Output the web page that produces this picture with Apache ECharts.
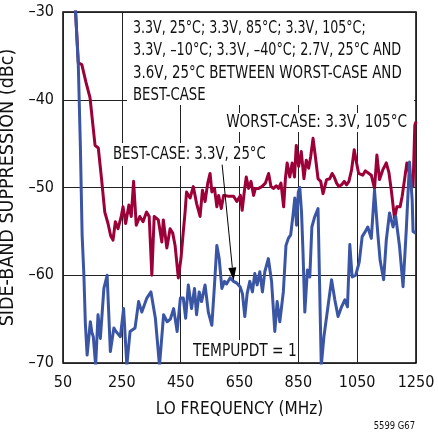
<!DOCTYPE html>
<html>
<head>
<meta charset="utf-8">
<script src="https://cdn.jsdelivr.net/npm/echarts@6/dist/echarts.min.js"></script>
<style>
html,body{margin:0;padding:0;background:#fff;}
#c{width:438px;height:432px;}
</style>
</head>
<body>
<div id="c"></div>
<script>
// ---- data ----
var xTicks = [50, 250, 450, 650, 850, 1050, 1250];
var yTicks = [-70, -60, -50, -40, -30];

var worstFreq = [92,102,114,128,142,152,159,170,181,192,203,212,220,228,237,248,254,263,274,282,290,299,311,322,334,343,352,360,374,386,391,403,414,423,431,442,451,459,465,470,482,493,504,516,524,533,542,550,556,565,573,579,588,596,613,630,641,653,659,667,673,681,689,698,704,715,726,738,749,757,766,775,783,791,800,806,812,821,829,837,843,851,860,869,877,885,892,900,908,917,926,934,946,957,965,972,980,988,997,1006,1014,1022,1031,1040,1048,1055,1069,1078,1090,1098,1109,1117,1126,1137,1149,1158,1166,1177,1185,1196,1203,1211,1219,1228,1234,1240,1246,1250];
var worstVal = [-29.5,-35.8,-36.0,-38.0,-39.8,-43.0,-45.2,-45.5,-49.0,-52.8,-54.1,-55.5,-56.0,-53.9,-54.7,-53.3,-52.2,-54.1,-52.0,-53.3,-49.3,-54.3,-53.3,-53.9,-52.8,-53.3,-60.0,-53.3,-53.7,-56.2,-53.7,-56.9,-54.7,-55.2,-56.6,-60.3,-58.1,-55.0,-52.8,-50.5,-51.2,-49.9,-51.8,-53.3,-50.3,-51.6,-49.5,-48.4,-50.5,-50.1,-52.2,-50.9,-52.4,-50.9,-51.0,-51.0,-51.6,-50.9,-52.6,-50.3,-48.8,-50.1,-49.3,-50.9,-50.1,-50.1,-49.9,-49.5,-48.4,-49.9,-50.1,-49.8,-50.1,-49.5,-52.2,-49.0,-47.2,-48.8,-47.2,-48.8,-45.2,-47.6,-45.9,-49.0,-46.9,-47.8,-46.5,-44.4,-46.5,-49.0,-49.3,-50.7,-49.1,-49.0,-48.4,-48.8,-49.5,-49.9,-49.7,-49.3,-49.7,-49.3,-48.0,-45.7,-47.2,-48.4,-48.6,-48.1,-48.4,-48.6,-50.1,-46.3,-49.1,-48.0,-47.2,-48.3,-50.3,-53.5,-52.2,-52.2,-51.0,-49.1,-47.2,-48.4,-49.5,-49.9,-42.9,-42.5];

var bestFreq = [92,102,109,115,121,126,132,143,148,153,161,169,177,189,200,211,223,230,245,256,267,278,295,307,318,335,349,364,378,392,404,415,426,438,449,459,467,476,487,497,504,513,521,533,544,556,565,573,581,590,599,606,618,630,641,652,660,668,676,685,694,702,710,719,728,736,748,759,770,778,787,799,808,816,824,833,838,844,850,855,861,866,872,881,889,896,906,917,928,937,949,963,974,985,997,1008,1017,1025,1033,1045,1057,1067,1078,1086,1098,1109,1120,1128,1140,1149,1160,1172,1181,1194,1206,1217,1228,1237,1240,1249];
var bestVal = [-29.5,-36.0,-45.2,-55.4,-60.0,-65.5,-69.1,-65.3,-66.5,-67.0,-70.3,-64.5,-67.2,-61.5,-60.0,-68.7,-66.0,-66.4,-67.0,-63.8,-70.3,-66.4,-66.0,-63.0,-64.2,-62.6,-61.9,-64.9,-70.3,-64.5,-65.3,-65.0,-63.8,-66.4,-62.6,-62.6,-64.9,-61.1,-63.8,-61.5,-64.5,-61.9,-63.0,-61.1,-64.2,-65.7,-61.1,-56.6,-58.1,-61.5,-60.7,-61.0,-60.3,-60.7,-60.9,-61.3,-62.1,-64.7,-62.1,-60.7,-61.9,-59.8,-61.1,-59.6,-61.9,-59.6,-58.1,-60.7,-66.4,-63.0,-65.3,-61.9,-56.6,-55.8,-55.4,-52.8,-51.2,-54.3,-50.5,-50.0,-52.9,-57.5,-64.2,-59.4,-60.2,-54.5,-53.3,-52.4,-70.3,-67.0,-64.0,-60.5,-62.8,-64.7,-63.6,-62.8,-63.6,-56.5,-60.2,-60.0,-58.5,-55.6,-55.0,-54.5,-55.8,-50.3,-55.2,-58.3,-60.5,-56.0,-52.9,-54.5,-53.3,-56.7,-61.3,-54.8,-47.1,-51.4,-55.0,-55.2];

// annotation arrow (data coordinates: from freq, from dBc, to freq, to dBc)
var arrowFrom = [591, -47.4];
var arrowTo = [630, -60.6];

// ---- chart ----
function pairs(xs, ys) { return xs.map(function (x, i) { return [x, ys[i]]; }); }

var FAM = "'DejaVu Sans Condensed', 'Liberation Sans Narrow', sans-serif";
var chart = echarts.init(document.getElementById('c'), null, { renderer: 'canvas' });

function txt(x, y, s, sx, align, size) {
  return { type: 'text', z: 10, x: x, y: y, scaleX: sx || 1, style: {
    text: s, fontSize: size || 18, fontFamily: FAM, fill: '#111',
    align: align || 'left', verticalAlign: 'middle', textAlign: align || 'left', textVerticalAlign: 'middle' } };
}

function renderArrow(params, api) {
  var p0 = api.coord([api.value(0), api.value(1)]);
  var p1 = api.coord([api.value(2), api.value(3)]);
  var dx = p1[0] - p0[0], dy = p1[1] - p0[1];
  var len = Math.sqrt(dx * dx + dy * dy);
  var ux = dx / len, uy = dy / len, nx = -uy, ny = ux;
  var hl = 13, hw = 4;
  var bx = p1[0] - ux * hl, by = p1[1] - uy * hl;
  return {
    type: 'group',
    children: [
      { type: 'line', shape: { x1: p0[0], y1: p0[1], x2: bx, y2: by }, style: { stroke: '#000', lineWidth: 1 } },
      { type: 'polygon', shape: { points: [[p1[0], p1[1]], [bx + nx * hw, by + ny * hw], [bx - nx * hw, by - ny * hw]] }, style: { fill: '#000' } }
    ]
  };
}

var option = {
  animation: false,
  backgroundColor: '#fff',
  textStyle: { fontFamily: FAM, color: '#111' },
  grid: { left: 63, right: 22, top: 12, bottom: 69, outerBoundsMode: 'none', containLabel: false,
          show: true, borderColor: '#000', borderWidth: 1.5, backgroundColor: 'transparent' },
  xAxis: {
    type: 'value', min: xTicks[0], max: xTicks[xTicks.length - 1], interval: 200,
    name: 'LO FREQUENCY (MHz)', nameLocation: 'middle', nameGap: 38,
    nameTextStyle: { fontFamily: FAM, fontSize: 17, color: '#111' },
    axisLine: { show: false }, axisTick: { show: false },
    axisLabel: { fontFamily: FAM, fontSize: 16, color: '#111', margin: 12,
      formatter: function (v) { return String(v); } },
    splitLine: { show: true, lineStyle: { color: '#222', width: 1 } }
  },
  yAxis: {
    type: 'value', min: yTicks[0], max: yTicks[yTicks.length - 1], interval: 10,
    name: 'SIDE-BAND SUPPRESSION (dBc)', nameLocation: 'middle', nameGap: 36,
    nameTextStyle: { fontFamily: FAM, fontSize: 19.5, color: '#111' },
    axisLine: { show: false }, axisTick: { show: false },
    axisLabel: { fontFamily: FAM, fontSize: 16, color: '#111', margin: 9,
      formatter: function (v) { return String(v).replace('-', '\u2013'); } },
    splitLine: { show: true, lineStyle: { color: '#222', width: 1 } }
  },
  series: [
    {
      type: 'line', name: 'worst', data: pairs(worstFreq, worstVal),
      showSymbol: false, symbol: 'none', clip: true, z: 3,
      lineStyle: { color: '#9c0038', width: 3, join: 'round' }
    },
    {
      type: 'line', name: 'best', data: pairs(bestFreq, bestVal),
      showSymbol: false, symbol: 'none', clip: true, z: 4,
      lineStyle: { color: '#3b55a5', width: 3, join: 'round' }
    },
    {
      type: 'custom', name: 'arrow', z: 6, clip: false, silent: true,
      renderItem: renderArrow,
      encode: { x: [0, 2], y: [1, 3] },
      data: [[arrowFrom[0], arrowFrom[1], arrowTo[0], arrowTo[1]]]
    }
  ],
  graphic: [
    { type: 'rect', z: 1, shape: { x: 127, y: 13, width: 287, height: 92 }, style: { fill: '#fff' } },
    { type: 'rect', z: 1, shape: { x: 220, y: 113, width: 190, height: 19 }, style: { fill: '#fff' } },
    { type: 'rect', z: 1, shape: { x: 108, y: 143, width: 165, height: 23 }, style: { fill: '#fff' } },
    { type: 'rect', z: 1, shape: { x: 189, y: 340, width: 107, height: 22 }, style: { fill: '#fff' } },
    txt(133, 28, '3.3V, 25°C; 3.3V, 85°C; 3.3V, 105°C;', 0.78),
    txt(133, 50.5, '3.3V, \u201310°C; 3.3V, \u201340°C; 2.7V, 25°C AND', 0.79),
    txt(133, 73, '3.6V, 25°C BETWEEN WORST-CASE AND', 0.826),
    txt(133, 95.5, 'BEST-CASE', 0.82),
    txt(407, 122, 'WORST-CASE: 3.3V, 105°C', 0.84, 'right'),
    txt(113, 154, 'BEST-CASE: 3.3V, 25°C', 0.82),
    txt(193, 351, 'TEMPUPDT = 1', 0.85),
    txt(415, 426, '5599 G67', 0.85, 'right', 11)
  ]
};
chart.setOption(option);
</script>
</body>
</html>
